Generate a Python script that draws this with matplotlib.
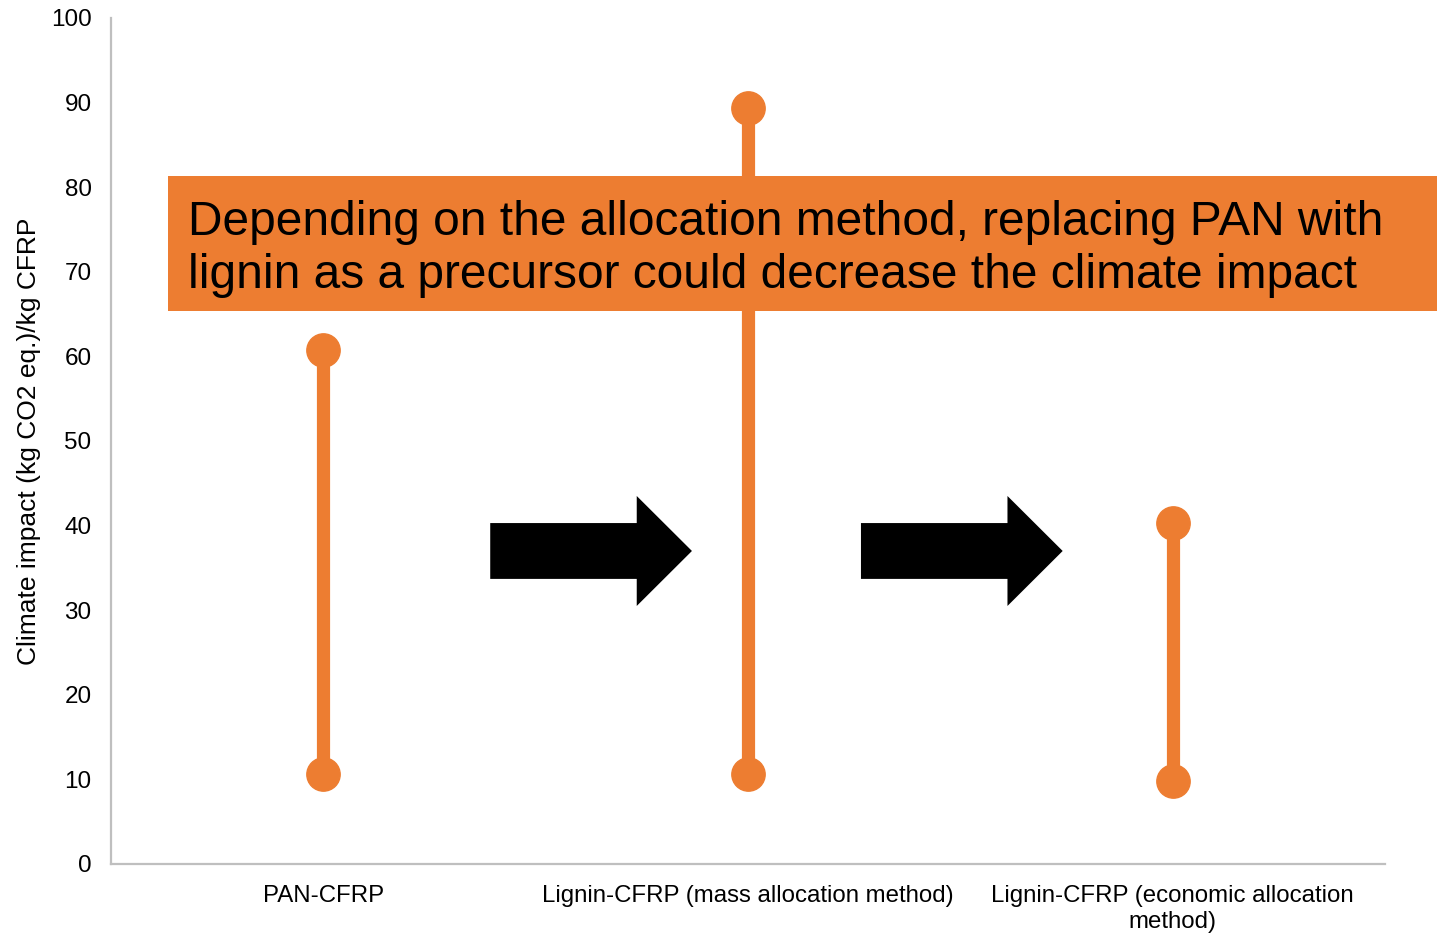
import matplotlib.pyplot as plt
from matplotlib.patches import FancyArrow, Rectangle

plt.rcParams['font.family'] = ['Liberation Sans', 'DejaVu Sans']

# data
categories = ["PAN-CFRP",
              "Lignin-CFRP (mass allocation method)",
              "Lignin-CFRP (economic allocation\nmethod)"]
high = [60.8, 89.4, 40.3]
low = [10.6, 10.6, 9.8]
yticks = [0, 10, 20, 30, 40, 50, 60, 70, 80, 90, 100]

orange = "#ED7D31"
grey = "#BFBFBF"

W, H = 1437, 934
fig = plt.figure(figsize=(W / 100, H / 100), dpi=100)
ax = fig.add_axes([111 / W, (H - 864) / H, (1385 - 111) / W, (864 - 18) / H])

x = list(range(len(categories)))
for xi, lo, hi in zip(x, low, high):
    ax.plot([xi, xi], [lo, hi], color=orange, lw=9.5, solid_capstyle='butt', zorder=2)
    ax.plot([xi, xi], [lo, hi], 'o', color=orange, ms=24, zorder=3)

# block arrows between the categories
for start in [0.393, 1.266]:
    ax.add_patch(FancyArrow(start, 37.0, 0.475, 0, width=6.6, head_width=13.0,
                            head_length=0.13, length_includes_head=True,
                            color="black", lw=0, zorder=4))

ax.set_xlim(-0.5, 2.5)
ax.set_ylim(0, 100)
ax.set_xticks(x)
ax.set_xticklabels(categories, fontsize=17.3, linespacing=1.25)
ax.set_yticks(yticks)
ax.tick_params(axis='y', length=0, pad=14, labelsize=17.5)
ax.tick_params(axis='x', length=0, pad=15)
ax.set_ylabel("Climate impact (kg CO2 eq.)/kg CFRP", fontsize=19, labelpad=7)

for s in ['top', 'right']:
    ax.spines[s].set_visible(False)
for s in ['left', 'bottom']:
    ax.spines[s].set_color(grey)
    ax.spines[s].set_linewidth(1.6)

# orange message box
fig.patches.append(Rectangle((168 / W, (H - 311) / H), (W - 168) / W, 135 / H,
                             transform=fig.transFigure, facecolor=orange,
                             edgecolor='none', zorder=5))
fig.text(188 / W, (H - 249) / H,
         "Depending on the allocation method, replacing PAN with\n"
         "lignin as a precursor could decrease the climate impact",
         fontsize=34.5, va='center', ha='left', color='black',
         linespacing=1.25, zorder=6)

fig.savefig("out.png", dpi=100)
